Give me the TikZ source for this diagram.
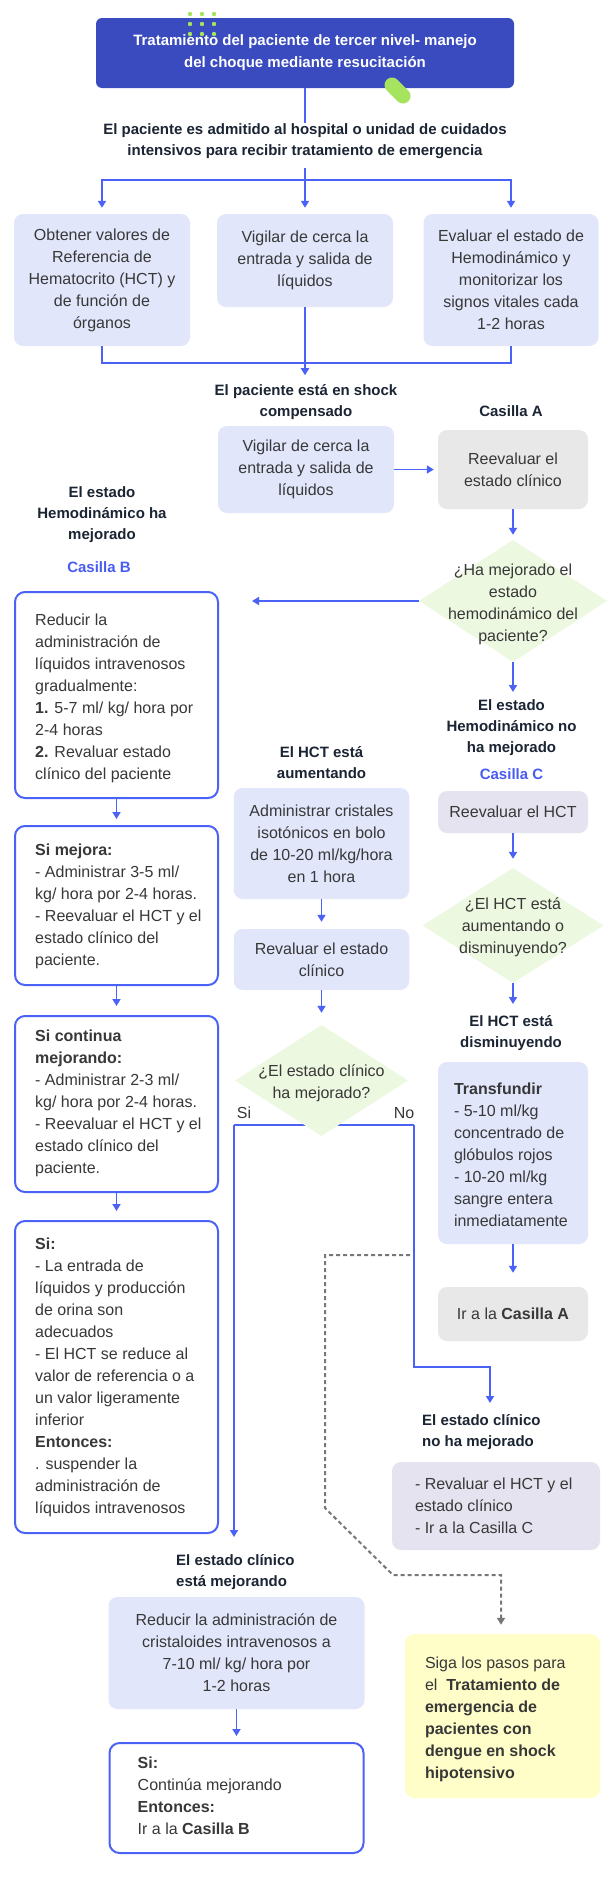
\documentclass[tikz,border=0pt]{standalone}
\usepackage{fontspec}
\setmainfont{Liberation Sans}
\usetikzlibrary{arrows.meta,shapes.geometric}
\definecolor{titleblue}{HTML}{3A4BBF}
\definecolor{connblue}{HTML}{4A62F6}
\definecolor{lav}{HTML}{E1E6FB}
\definecolor{grayb}{HTML}{E8E8E8}
\definecolor{lavgray}{HTML}{E6E3F1}
\definecolor{diag}{HTML}{EDF8E1}
\definecolor{yel}{HTML}{FFFEC8}
\definecolor{navy}{HTML}{1B2433}
\definecolor{bodytxt}{HTML}{383838}
\definecolor{bluelbl}{HTML}{4A5CF0}
\definecolor{dashgray}{HTML}{777777}
\definecolor{accent}{HTML}{A6E35E}
\tikzset{
  body/.style={font=\fontsize{16}{22}\selectfont, text=bodytxt, inner sep=0pt},
  lbl/.style={font=\fontsize{15}{21}\selectfont\bfseries, text=navy, align=center, inner sep=0pt},
  bluelabel/.style={font=\fontsize{15}{21}\selectfont\bfseries, text=bluelbl, inner sep=0pt},
  lavbox/.style={rectangle, rounded corners=9pt, fill=lav, inner sep=0pt},
  graybox/.style={rectangle, rounded corners=9pt, fill=grayb, inner sep=0pt},
  lgbox/.style={rectangle, rounded corners=9pt, fill=lavgray, inner sep=0pt},
  ylbox/.style={rectangle, rounded corners=9pt, fill=yel, inner sep=0pt},
  wbox/.style={rectangle, rounded corners=10pt, draw=connblue, line width=2pt, fill=white, inner sep=0pt},
  dia/.style={diamond, fill=diag, draw=none, inner sep=0pt},
  link/.style={draw=connblue, line width=1.8pt},
  arr/.style={link, -{Triangle[width=8pt,length=7pt]}},
  dsh/.style={draw=dashgray, line width=2pt, dash pattern=on 4pt off 3pt, -{Triangle[width=8pt,length=7pt]}},
}
\begin{document}
\begin{tikzpicture}[x=1pt,y=-1pt]
\fill[white] (0,0) rectangle (610,1879);
\path[use as bounding box] (0,0) rectangle (610,1879);

% title
\node[rectangle, rounded corners=6pt, fill=titleblue, inner sep=0pt, minimum width=418pt, minimum height=70pt,
      text=white, font=\fontsize{15}{22}\selectfont\bfseries, align=center] (title) at (305,53)
  {Tratamiento del paciente de tercer nivel- manejo\\del choque mediante resucitación};
\foreach \i in {190,202,214} \foreach \j in {14,24,34} \fill[accent] (\i,\j) circle (2.2pt);
\draw[accent, line width=15pt, line cap=round] (392,85) -- (403,96);

\node[lbl] (t1) at (305,141) {El paciente es admitido al hospital o unidad de cuidados\\intensivos para recibir tratamiento de emergencia};
\draw[link] (title.south) -- (t1.north);

% first row
\node[lavbox, body, align=center, minimum width=176pt, minimum height=132pt] (b1) at (102,280)
  {Obtener valores de\\Referencia de\\Hematocrito (HCT) y\\de función de\\órganos};
\node[lavbox, body, align=center, minimum width=176pt, minimum height=93pt] (b2) at (305,260.5)
  {Vigilar de cerca la\\entrada y salida de\\líquidos};
\node[lavbox, body, align=center, minimum width=175pt, minimum height=132pt] (b3) at (511,280)
  {Evaluar el estado de\\Hemodinámico y\\monitorizar los\\signos vitales cada\\1-2 horas};

\coordinate (fork) at (305,180);
\draw[link, shorten <=9pt] (t1.south) -- (fork);
\draw[arr, shorten >=6pt] (fork) -- (b2.north);
\draw[arr, shorten >=6pt] (fork) -| (b1.north);
\draw[arr, shorten >=6pt] (fork) -| (b3.north);

\node[lbl] (t2) at (306,402) {El paciente está en shock\\compensado};
\coordinate (mg) at (305,363);
\draw[link] (b1.south) |- (mg) -| (b3.south);
\draw[arr, shorten >=9pt] (b2.south) -- (b2.south |- t2.north);

\node[lbl] (casA) at (511,411) {Casilla A};

\node[lavbox, body, align=center, minimum width=176pt, minimum height=87pt] (b4) at (306,469.5)
  {Vigilar de cerca la\\entrada y salida de\\líquidos};
\node[graybox, body, align=center, minimum width=150pt, minimum height=79pt] (gA) at (513,469.5)
  {Reevaluar el\\estado clínico};
\draw[arr, shorten >=4pt] (b4.east) -- (gA.west);

% diamond 1
\node[dia, minimum width=188pt, minimum height=122pt] (d1) at (513,601) {};
\node[body, align=center] (d1t) at (513,604) {¿Ha mejorado el\\estado\\hemodinámico del\\paciente?};
\draw[arr, shorten >=5pt] (gA.south) -- (d1.north);
\coordinate (cB) at (252,601);
\draw[arr] (d1.west) -- (cB);

\node[lbl] (hm) at (102,514.5) {El estado\\Hemodinámico ha\\mejorado};
\node[bluelabel] (casB) at (99,567) {Casilla B};

% left column
\node[wbox, minimum width=203pt, minimum height=206pt] (L1) at (116.5,695) {};
\node[body, align=left, anchor=west] (L1t) at ([xshift=21pt,yshift=-3pt]L1.west)
  {Reducir la\\administración de\\líquidos intravenosos\\gradualmente:\\\textbf{1.} 5-7 ml/ kg/ hora por\\2-4 horas\\\textbf{2.} Revaluar estado\\clínico del paciente};
\node[wbox, minimum width=203pt, minimum height=159pt] (L2) at (116.5,905.5) {};
\node[body, align=left, anchor=west] (L2t) at ([xshift=21pt,yshift=-1pt]L2.west)
  {\textbf{Si mejora:}\\- Administrar 3-5 ml/\\kg/ hora por 2-4 horas.\\- Reevaluar el HCT y el\\estado clínico del\\paciente.};
\node[wbox, minimum width=203pt, minimum height=176pt] (L3) at (116.5,1104) {};
\node[body, align=left, anchor=west] (L3t) at ([xshift=21pt,yshift=1pt]L3.west)
  {\textbf{Si continua}\\\textbf{mejorando:}\\- Administrar 2-3 ml/\\kg/ hora por 2-4 horas.\\- Reevaluar el HCT y el\\estado clínico del\\paciente.};
\node[wbox, minimum width=203pt, minimum height=312pt] (L4) at (116.5,1377) {};
\node[body, align=left, anchor=west] (L4t) at ([xshift=21pt]L4.west)
  {\textbf{Si:}\\- La entrada de\\líquidos y producción\\de orina son\\adecuados\\- El HCT se reduce al\\valor de referencia o a\\un valor ligeramente\\inferior\\\textbf{Entonces:}\\. suspender la\\administración de\\líquidos intravenosos};
\draw[arr, shorten >=6pt] (L1.south) -- (L2.north);
\draw[arr, shorten >=9pt] (L2.south) -- (L3.north);
\draw[arr, shorten >=9pt] (L3.south) -- (L4.north);

% middle column
\node[lbl] (ha) at (321.5,763) {El HCT está\\aumentando};
\node[lavbox, body, align=center, minimum width=175.5pt, minimum height=111pt] (MA) at (321.5,843.5)
  {Administrar cristales\\isotónicos en bolo\\de 10-20 ml/kg/hora\\en 1 hora};
\node[lavbox, body, align=center, minimum width=175.5pt, minimum height=61pt] (MB) at (321.5,959.5)
  {Revaluar el estado\\clínico};
\draw[arr, shorten >=7pt] (MA.south) -- (MB.north);

\coordinate (si) at (234,1125);
\coordinate (no) at (414,1125);
\draw[link] (si) -- (no);
\node[dia, minimum width=173pt, minimum height=111pt] (d2) at (321.5,1080.5) {};
\node[body, align=center] (d2t) at (321.5,1083) {¿El estado clínico\\ha mejorado?};
\draw[arr, shorten >=12pt] (MB.south) -- (d2.north);
\node[body] (siL) at (244,1113) {Si};
\node[body] (noL) at (404,1113) {No};

\coordinate (a3) at (234,1537);
\draw[arr] (si) -- (a3);
\coordinate (k1) at (490,1367);
\coordinate (a4) at (490,1403);
\draw[arr] (no) |- (k1) -- (a4);

\node[lbl, align=left, anchor=west] (nm) at (422,1432) {El estado clínico\\no ha mejorado};
\node[lgbox, minimum width=208pt, minimum height=88pt] (RC) at (496,1506) {};
\node[body, align=left, anchor=west] (RCt) at ([xshift=23pt]RC.west)
  {- Revaluar el HCT y el\\estado clínico\\- Ir a la Casilla C};

% right column
\node[lbl] (hn) at (511.5,728) {El estado\\Hemodinámico no\\ha mejorado};
\node[bluelabel] (casC) at (511.5,774) {Casilla C};
\coordinate (a1) at (513,692);
\draw[arr] (d1.south) -- (a1);
\node[lgbox, body, align=center, minimum width=150pt, minimum height=42pt] (RH) at (513,812) {Reevaluar el HCT};
\node[dia, minimum width=181pt, minimum height=115pt] (d3) at (513,925.5) {};
\node[body, align=center] (d3t) at (513,927) {¿El HCT está\\aumentando o\\disminuyendo?};
\draw[arr, shorten >=9pt] (RH.south) -- (d3.north);
\coordinate (a2) at (513,1004);
\draw[arr] (d3.south) -- (a2);
\node[lbl] (hd) at (511,1033) {El HCT está\\disminuyendo};
\node[lavbox, minimum width=150pt, minimum height=182pt] (TR) at (513,1153) {};
\node[body, align=left, anchor=west] (TRt) at ([xshift=16pt,yshift=-2pt]TR.west)
  {\textbf{Transfundir}\\- 5-10 ml/kg\\concentrado de\\glóbulos rojos\\- 10-20 ml/kg\\sangre entera\\inmediatamente};
\node[graybox, body, minimum width=150pt, minimum height=54pt] (IrA) at (513,1314) {Ir a la \textbf{Casilla A}};
\draw[arr, shorten >=14pt] (TR.south) -- (IrA.north);

% bottom
\node[lbl, align=left, anchor=west] (cm) at (176,1572) {El estado clínico\\está mejorando};
\node[lavbox, body, align=center, minimum width=256pt, minimum height=112pt] (BB) at (236.5,1653)
  {Reducir la administración de\\cristaloides intravenosos a\\7-10 ml/ kg/ hora por\\1-2 horas};
\node[wbox, minimum width=254pt, minimum height=110pt] (FB) at (236.5,1798) {};
\node[body, align=left, anchor=west] (FBt) at ([xshift=29pt,yshift=2pt]FB.west)
  {\textbf{Si:}\\Continúa mejorando\\\textbf{Entonces:}\\Ir a la \textbf{Casilla B}};
\draw[arr, shorten >=6pt] (BB.south) -- (FB.north);

\node[ylbox, minimum width=195pt, minimum height=164pt] (YB) at (502.5,1716) {};
\node[body, align=left, anchor=west] (YBt) at ([xshift=20pt,yshift=-3pt]YB.west)
  {Siga los pasos para\\el~ \textbf{Tratamiento de}\\\textbf{emergencia de}\\\textbf{pacientes con}\\\textbf{dengue en shock}\\\textbf{hipotensivo}};

% dashed connector
\coordinate (dsA) at (410,1255);
\coordinate (dsB) at (325,1255);
\coordinate (dsC) at (325,1508);
\coordinate (dsD) at (393,1575);
\coordinate (dsE) at (501,1575);
\draw[dsh, shorten >=9pt] (dsA) -- (dsB) -- (dsC) -- (dsD) -- (dsE) -- (dsE |- YB.north);
\end{tikzpicture}
\end{document}
